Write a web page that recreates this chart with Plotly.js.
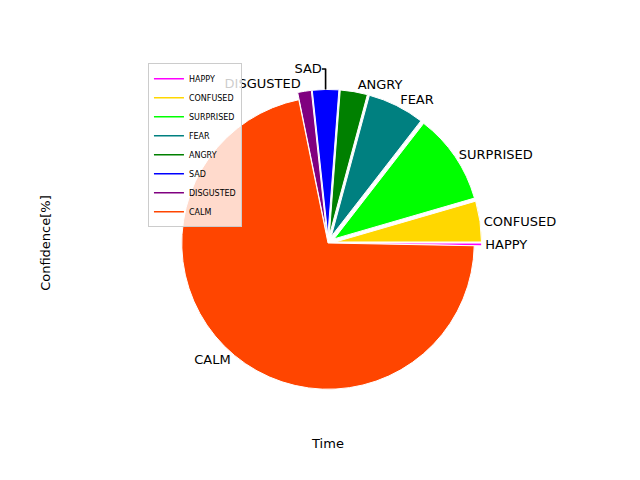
<html><head><script src="https://cdn.plot.ly/plotly-3.0.1.min.js"></script></head><body style="margin:0">
<div id="c" style="width:640px;height:480px"></div>
<script>
const labels=["HAPPY","CONFUSED","SURPRISED","FEAR","ANGRY","SAD","DISGUSTED","CALM"];
const values=[0.3,4.5,10,6.3,3,2.9,1.5,71.5];
const colors=["#ff00ff","#ffd700","#00ff00","#008080","#008000","#0000ff","#800080","#ff4500"];
const pulls=[0.05,0.05,0.05,0.05,0.05,0.05,0.05,0];
const traces=[{type:"pie",labels:labels,values:values,sort:false,direction:"counterclockwise",rotation:90,
 marker:{colors:colors,line:{color:"white",width:1}},pull:pulls,textinfo:"label",textposition:"outside",
 textfont:{size:13,color:"black",family:"DejaVu Sans"},showlegend:false,hoverinfo:"none",
 domain:{x:[0.19,0.81],y:[0.085,0.915]}}];
labels.forEach((l,i)=>traces.push({type:"scatter",x:[null],y:[null],mode:"lines",name:l,line:{color:colors[i],width:1.5}}));
Plotly.newPlot("c",traces,{width:640,height:480,margin:{l:80,r:64,t:58,b:52},paper_bgcolor:"white",plot_bgcolor:"white",
 font:{family:"DejaVu Sans",color:"black"},
 xaxis:{showgrid:false,zeroline:false,showticklabels:false,showline:false,ticks:"",title:{text:"Time",font:{size:13},standoff:10}},
 yaxis:{showgrid:false,zeroline:false,showticklabels:false,showline:false,ticks:""},
 annotations:[{text:"Confidence[%]",xref:"paper",yref:"paper",x:-0.09,y:0.5,textangle:-90,showarrow:false,font:{size:13}}],
 legend:{x:0.137,y:0.986,xanchor:"left",yanchor:"top",font:{size:8},itemwidth:30,bordercolor:"#ccc",borderwidth:1,bgcolor:"rgba(255,255,255,0.8)",tracegroupgap:0}
},{staticPlot:true});
</script></body></html>
